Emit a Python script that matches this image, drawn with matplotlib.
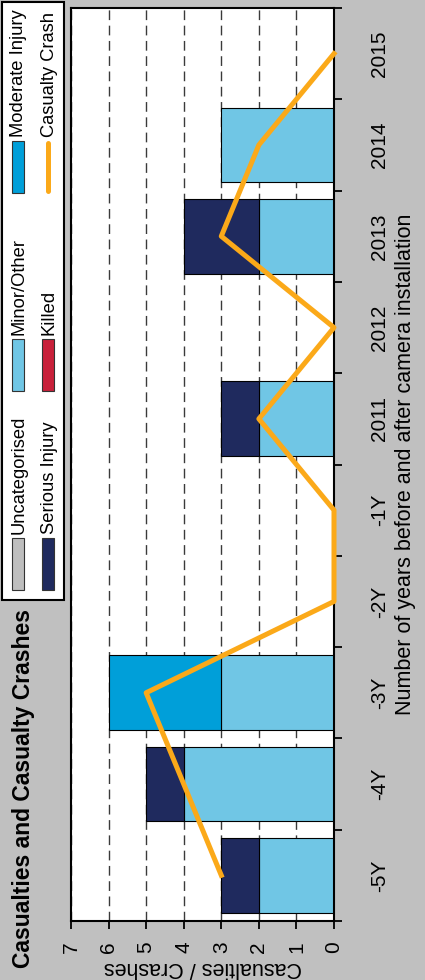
import numpy as np
import matplotlib
matplotlib.use('Agg')
import matplotlib.pyplot as plt
from matplotlib.patches import Rectangle
from matplotlib.lines import Line2D

# data
categories = ['-5Y', '-4Y', '-3Y', '-2Y', '-1Y', '2011', '2012', '2013', '2014', '2015']
uncategorised = [0, 0, 0, 0, 0, 0, 0, 0, 0, 0]
minor_other = [2, 4, 3, 0, 0, 2, 0, 2, 3, 0]
moderate = [0, 0, 3, 0, 0, 0, 0, 0, 0, 0]
serious = [1, 1, 0, 0, 0, 1, 0, 2, 0, 0]
killed = [0, 0, 0, 0, 0, 0, 0, 0, 0, 0]
casualty_crash = [3, 4, 5, 0, 0, 2, 0, 3, 2, 0]

series_names = ['Uncategorised', 'Minor/Other', 'Moderate Injury', 'Serious Injury', 'Killed']
series_values = [uncategorised, minor_other, moderate, serious, killed]
series_colors = ['#BEBEBE', '#70C6E5', '#009FD9', '#1F2A5E', '#C8203A']
line_color = '#FBA919'

W, H = 425, 980
def fx(px):
    return px / W
def fy(py):
    return 1 - py / H

plt.rcParams['font.family'] = ['Liberation Sans', 'DejaVu Sans']

fig = plt.figure(figsize=(W / 100, H / 100), dpi=100, facecolor='#C0C0C0')
ax = fig.add_axes([fx(71), fy(921), (334 - 71) / W, (921 - 8) / H])

y = np.arange(len(categories))
left = np.zeros(len(categories))
for name, vals, col in zip(series_names, series_values, series_colors):
    vals = np.array(vals, dtype=float)
    m = vals > 0
    if m.any():
        ax.barh(y[m], vals[m], left=left[m], height=0.82, color=col,
                edgecolor='black', linewidth=0.8, zorder=2)
    left += vals

ax.plot(casualty_crash, y, color=line_color, lw=3.6,
        solid_joinstyle='round', clip_on=False, zorder=3)

ax.set_xlim(7, 0)
ax.set_ylim(-0.5, len(categories) - 0.5)
ax.set_xticks(range(0, 8))
ax.grid(axis='x', color='#3a3a3a', linestyle=(0, (7, 4)), linewidth=1, zorder=1)
ax.set_axisbelow(True)

narrow = ['Liberation Sans Narrow', 'Liberation Sans']
ax.tick_params(axis='x', direction='out', length=5.8, width=1.3, pad=9,
               labelrotation=90, labelsize=15)
for t in ax.get_xticklabels():
    t.set_family(narrow)

ax.yaxis.tick_right()
ax.yaxis.set_label_position('right')
ax.set_yticks(y)
ax.set_yticklabels(categories, rotation=90, va='center')
ax.set_yticks(np.arange(-0.5, len(categories)), minor=True)
ax.tick_params(axis='y', which='major', length=0, pad=26, labelsize=15)
ax.tick_params(axis='y', which='minor', direction='out', length=5.8, width=1.3)
for t in ax.get_yticklabels():
    t.set_family(narrow)

ax.set_xlabel('Casualties / Crashes', rotation=180, fontsize=15.5, labelpad=3)
ax.set_ylabel('Number of years before and after camera installation',
              fontsize=15.5, labelpad=4)

for s in ax.spines.values():
    s.set_linewidth(1.5)
    s.set_color('black')

# title
fig.text(fx(24), fy(968), 'Casualties and Casualty Crashes', rotation=90,
         ha='center', va='bottom', fontsize=16.5, fontweight='bold')

# legend (drawn by hand, rotated)
fig.add_artist(Rectangle((fx(2), fy(600)), 62 / W, 598 / H, transform=fig.transFigure,
                         facecolor='white', edgecolor='black', linewidth=1.5))
legend_cols = [18, 48]
legend_rows = [590, 391, 193]
entries = [(0, 0, 'Uncategorised', series_colors[0]),
           (0, 1, 'Minor/Other', series_colors[1]),
           (0, 2, 'Moderate Injury', series_colors[2]),
           (1, 0, 'Serious Injury', series_colors[3]),
           (1, 1, 'Killed', series_colors[4]),
           (1, 2, 'Casualty Crash', None)]
for c, r, label, col in entries:
    cx = legend_cols[c]
    yb = legend_rows[r]
    if col is None:
        fig.add_artist(Line2D([fx(cx), fx(cx)], [fy(yb - 2), fy(yb - 50)],
                              transform=fig.transFigure, color=line_color, lw=3.6,
                              solid_capstyle='round'))
    else:
        fig.add_artist(Rectangle((fx(cx - 6), fy(yb)), 12 / W, 52 / H,
                                 transform=fig.transFigure, facecolor=col,
                                 edgecolor='#333333', linewidth=0.8))
    fig.text(fx(cx + 1), fy(yb - 56), label, rotation=90, ha='center', va='bottom',
             fontsize=13.2)

fig.savefig('out.png', dpi=100, facecolor=fig.get_facecolor())
